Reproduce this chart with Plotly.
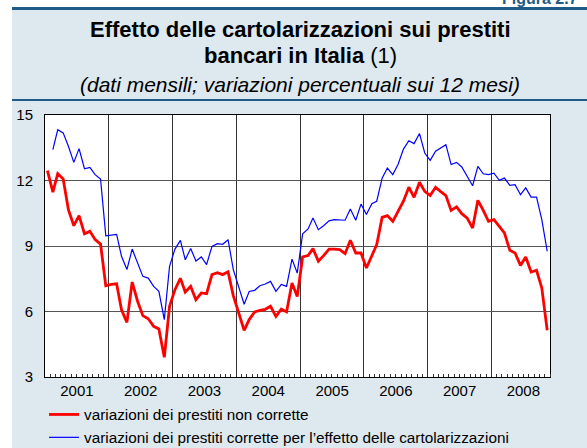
import pandas as pd
import plotly.graph_objects as go

# ---- data (monthly, Jan 2001 - Nov 2008) ----
months = pd.date_range("2001-01-01", "2008-11-01", freq="MS") + pd.Timedelta(days=14)

non_corrette = [
    12.45, 11.47, 12.31, 12.07, 10.66, 9.93, 10.39, 9.56, 9.67, 9.29, 9.09, 7.18,
    7.24, 7.27, 6.08, 5.50, 7.35, 6.47, 5.81, 5.67, 5.32, 5.20, 3.90, 6.24,
    7.00, 7.52, 6.89, 7.15, 6.54, 6.85, 6.82, 7.69, 7.78, 7.69, 7.82, 6.73,
    5.93, 5.14, 5.63, 5.98, 6.05, 6.10, 6.24, 5.78, 6.11, 5.98, 7.31, 6.69,
    8.50, 8.56, 8.88, 8.30, 8.56, 8.86, 8.86, 8.83, 8.65, 9.26, 8.68, 8.68,
    7.99, 8.56, 9.06, 10.31, 10.39, 10.13, 10.59, 11.05, 11.69, 11.23, 11.92, 11.50,
    11.31, 11.69, 11.50, 11.31, 10.63, 10.79, 10.48, 10.28, 9.82, 11.09, 10.63, 10.13,
    10.21, 9.90, 9.60, 8.80, 8.68, 8.11, 8.50, 7.81, 7.89, 7.08, 5.14,
]

corrette = [
    None, 13.41, 14.33, 14.18, 13.57, 12.83, 13.46, 12.54, 12.60, 12.27, 12.07, 9.47,
    9.50, 9.53, 8.53, 7.92, 8.86, 8.22, 7.61, 7.53, 7.15, 6.92, 5.63, 8.07,
    8.86, 9.26, 8.37, 8.89, 8.31, 8.50, 8.15, 8.98, 9.11, 9.08, 9.29, 7.92,
    7.08, 6.33, 6.92, 6.97, 7.18, 7.26, 7.38, 6.92, 7.24, 7.15, 8.40, 7.76,
    9.56, 9.78, 10.28, 9.75, 9.93, 10.15, 10.21, 10.18, 10.18, 10.69, 10.18, 10.92,
    10.44, 10.94, 11.05, 12.11, 12.57, 12.27, 12.73, 13.44, 13.82, 13.69, 14.15, 13.26,
    12.92, 13.34, 13.49, 13.64, 12.73, 12.83, 12.62, 12.22, 11.76, 12.65, 12.31, 12.27,
    12.34, 12.01, 12.11, 11.78, 11.81, 11.35, 11.66, 11.24, 11.24, 10.21, 8.76,
]

y_ticks = [3, 6, 9, 12, 15]

series_names = [
    "variazioni dei prestiti non corrette",
    "variazioni dei prestiti corrette per l\u2019effetto delle cartolarizzazioni",
]

FONT = "Liberation Sans, Arial, Helvetica, sans-serif"
PANEL = "#dde8ef"
DARK = "#1f5b86"

# plot area in pixels
L, R, T, B = 45, 550, 115, 377
W, H = 587, 448


def px_x(px):
    return (px - L) / (R - L)


def px_y(py):
    return (B - py) / (B - T)


fig = go.Figure()
fig.add_trace(go.Scatter(
    x=months, y=non_corrette, mode="lines", name=series_names[0],
    line=dict(color="#ff0000", width=2.8), hoverinfo="skip",
))
fig.add_trace(go.Scatter(
    x=months, y=corrette, mode="lines", name=series_names[1],
    line=dict(color="#0000ff", width=1.2), hoverinfo="skip",
))

shapes = [
    dict(type="rect", xref="paper", yref="paper", layer="below",
         x0=px_x(-5), x1=px_x(600), y0=px_y(8), y1=px_y(-5),
         fillcolor="white", line=dict(width=0)),
    dict(type="rect", xref="paper", yref="paper", layer="below",
         x0=px_x(-5), x1=px_x(12), y0=px_y(460), y1=px_y(-5),
         fillcolor="white", line=dict(width=0)),
    dict(type="line", xref="paper", yref="paper",
         x0=px_x(12), x1=px_x(600), y0=px_y(8.5), y1=px_y(8.5),
         line=dict(color=DARK, width=3)),
    dict(type="line", xref="paper", yref="paper",
         x0=px_x(12), x1=px_x(600), y0=px_y(100), y1=px_y(100),
         line=dict(color=DARK, width=2)),
]

cx = px_x(300)
annotations = [
    dict(text="<b>Figura 2.7</b>", xref="paper", yref="paper", x=px_x(500), y=px_y(9),
         xanchor="left", yanchor="bottom", showarrow=False,
         font=dict(family=FONT, size=16, color=DARK)),
    dict(text="<b>Effetto delle cartolarizzazioni sui prestiti</b>", xref="paper", yref="paper",
         x=cx, y=px_y(30), xanchor="center", yanchor="middle", showarrow=False,
         font=dict(family=FONT, size=22, color="black")),
    dict(text="<b>bancari in Italia</b> (1)", xref="paper", yref="paper",
         x=cx, y=px_y(55), xanchor="center", yanchor="middle", showarrow=False,
         font=dict(family=FONT, size=22, color="black")),
    dict(text="<i>(dati mensili; variazioni percentuali sui 12 mesi)</i>", xref="paper", yref="paper",
         x=cx, y=px_y(85), xanchor="center", yanchor="middle", showarrow=False,
         font=dict(family=FONT, size=21, color="black")),
]

fig.update_layout(
    width=W, height=H,
    margin=dict(l=L, r=W - R, t=T, b=H - B, pad=0, autoexpand=False),
    paper_bgcolor=PANEL, plot_bgcolor="white",
    font=dict(family=FONT, size=15, color="black"),
    showlegend=True,
    legend=dict(x=px_x(44), y=px_y(398), xanchor="left", yanchor="top",
                bgcolor="rgba(0,0,0,0)", font=dict(family=FONT, size=15.3),
                itemwidth=30, tracegroupgap=0),
    shapes=shapes, annotations=annotations,
    xaxis=dict(
        type="date", range=["2001-01-01", "2008-12-01"],
        dtick="M12", tick0="2001-01-01", tickformat="%Y", ticklabelmode="period",
        showgrid=True, gridcolor="#333333", gridwidth=1,
        ticks="", showline=True, linecolor="black", linewidth=1, mirror=True,
        minor=dict(dtick="M1", tick0="2001-01-01", ticks="inside", ticklen=3,
                   tickcolor="#333333", showgrid=False),
        tickfont=dict(size=15), ticklabelstandoff=0, zeroline=False,
    ),
    yaxis=dict(
        range=[3, 15], tickvals=y_ticks, showgrid=True, gridcolor="#555555", gridwidth=1,
        showline=True, linecolor="black", linewidth=1, mirror=True,
        ticks="", ticklabelstandoff=8, zeroline=False, tickfont=dict(size=15),
    ),
    yaxis2=dict(
        range=[3, 15], tickvals=y_ticks, overlaying="y", side="right", anchor="x",
        showgrid=False, ticks="", ticklabelstandoff=6, zeroline=False,
        showline=False, tickfont=dict(size=15),
    ),
)

fig.write_html("out.html", config={"displayModeBar": False, "staticPlot": True},
               post_script="document.body.style.margin='0';")
